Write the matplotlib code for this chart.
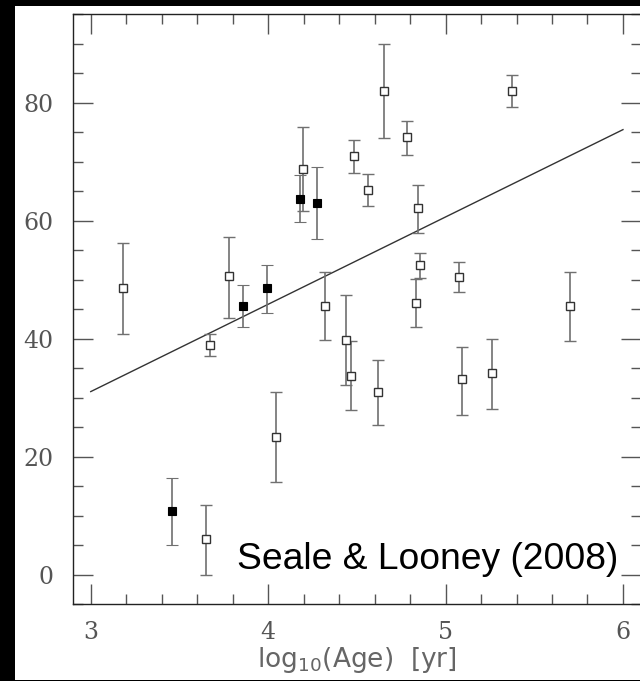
import numpy as np
import matplotlib
matplotlib.use("Agg")
import matplotlib.pyplot as plt
from matplotlib.ticker import MultipleLocator
from matplotlib.patches import Rectangle

# open squares
open_x = [3.18, 3.675, 3.652, 3.78, 4.047, 4.194, 4.32, 4.44, 4.466, 4.485, 4.564,
          4.62, 4.654, 4.782, 4.846, 4.856, 4.835, 5.076, 5.09, 5.26, 5.373, 5.703]
open_y = [48.5, 38.9, 6.0, 50.6, 23.3, 68.8, 45.5, 39.8, 33.7, 70.9, 65.2,
          31.0, 82.0, 74.1, 62.1, 52.5, 46.1, 50.5, 33.1, 34.2, 82.0, 45.5]
open_hi = [56.2, 40.8, 11.7, 57.2, 31.0, 75.8, 51.2, 47.3, 39.6, 73.7, 67.8,
           36.3, 89.9, 76.8, 66.1, 54.5, 50.1, 52.9, 38.6, 39.9, 84.7, 51.2]
open_lo = [40.7, 37.0, 0.0, 43.5, 15.6, 61.6, 39.7, 32.1, 27.8, 68.1, 62.4,
           25.4, 73.9, 71.1, 57.8, 50.2, 42.0, 47.9, 27.1, 28.1, 79.3, 39.6]

# filled squares
filled_x = [3.46, 3.857, 3.996, 4.18, 4.276]
filled_y = [10.7, 45.5, 48.5, 63.7, 62.9]
filled_hi = [16.4, 49.0, 52.5, 67.7, 69.0]
filled_lo = [5.0, 42.0, 44.4, 59.7, 56.9]

# fitted line
fit_x = [3.0, 6.0]
fit_y = [31.0, 75.4]

fig = plt.figure(figsize=(6.4, 6.81), dpi=100, facecolor="black")
fig.patches.append(Rectangle((15 / 640, 1 / 681), 1 - 15 / 640, 674 / 681,
                             transform=fig.transFigure, facecolor="white",
                             edgecolor="none", zorder=-10))
ax = fig.add_axes([73 / 640, 77 / 681, 567.7 / 640, 590 / 681])
ax.set_facecolor("white")

oy = np.array(open_y)
ax.errorbar(open_x, oy, yerr=[oy - np.array(open_lo), np.array(open_hi) - oy],
            fmt="s", ms=6, mfc="white", mec="#333333", mew=1.0,
            ecolor="#707070", elinewidth=1.2, capsize=4.3, capthick=1.2, zorder=3)
fy = np.array(filled_y)
ax.errorbar(filled_x, fy, yerr=[fy - np.array(filled_lo), np.array(filled_hi) - fy],
            fmt="s", ms=6.2, mfc="black", mec="black", mew=0.8,
            ecolor="#707070", elinewidth=1.2, capsize=4.3, capthick=1.2, zorder=4)

ax.plot(fit_x, fit_y, "-", color="#333333", lw=1.0, zorder=2)

ax.set_xlim(2.9, 6.1)
ax.set_ylim(-5, 95)
ax.xaxis.set_major_locator(MultipleLocator(1))
ax.xaxis.set_minor_locator(MultipleLocator(0.2))
ax.yaxis.set_major_locator(MultipleLocator(20))
ax.yaxis.set_minor_locator(MultipleLocator(5))
ax.tick_params(which="both", direction="in", top=True, right=True,
               color="#555555", width=1.0)
ax.tick_params(which="major", length=14.4)
ax.tick_params(which="minor", length=7.2)
ax.tick_params(axis="y", which="major", pad=14, labelsize=17, labelcolor="#555555")
ax.tick_params(axis="x", which="major", pad=12, labelsize=17, labelcolor="#555555")
for lab in ax.get_xticklabels() + ax.get_yticklabels():
    lab.set_family("DejaVu Serif")
for s in ax.spines.values():
    s.set_color("#222222")
    s.set_linewidth(1.0)

ax.set_xlabel(r"log$_{10}$(Age)  [yr]", fontsize=19, color="#666666",
              family="DejaVu Sans")
ax.xaxis.set_label_coords(0.5, -0.07)
ax.xaxis.label.set_va("top")

ax.text(3.823, 0.85, "Seale & Looney (2008)", fontsize=26.8, family="Liberation Sans",
        color="black", va="baseline", ha="left", zorder=5)

plt.savefig("out.png", dpi=100, facecolor=fig.get_facecolor())
